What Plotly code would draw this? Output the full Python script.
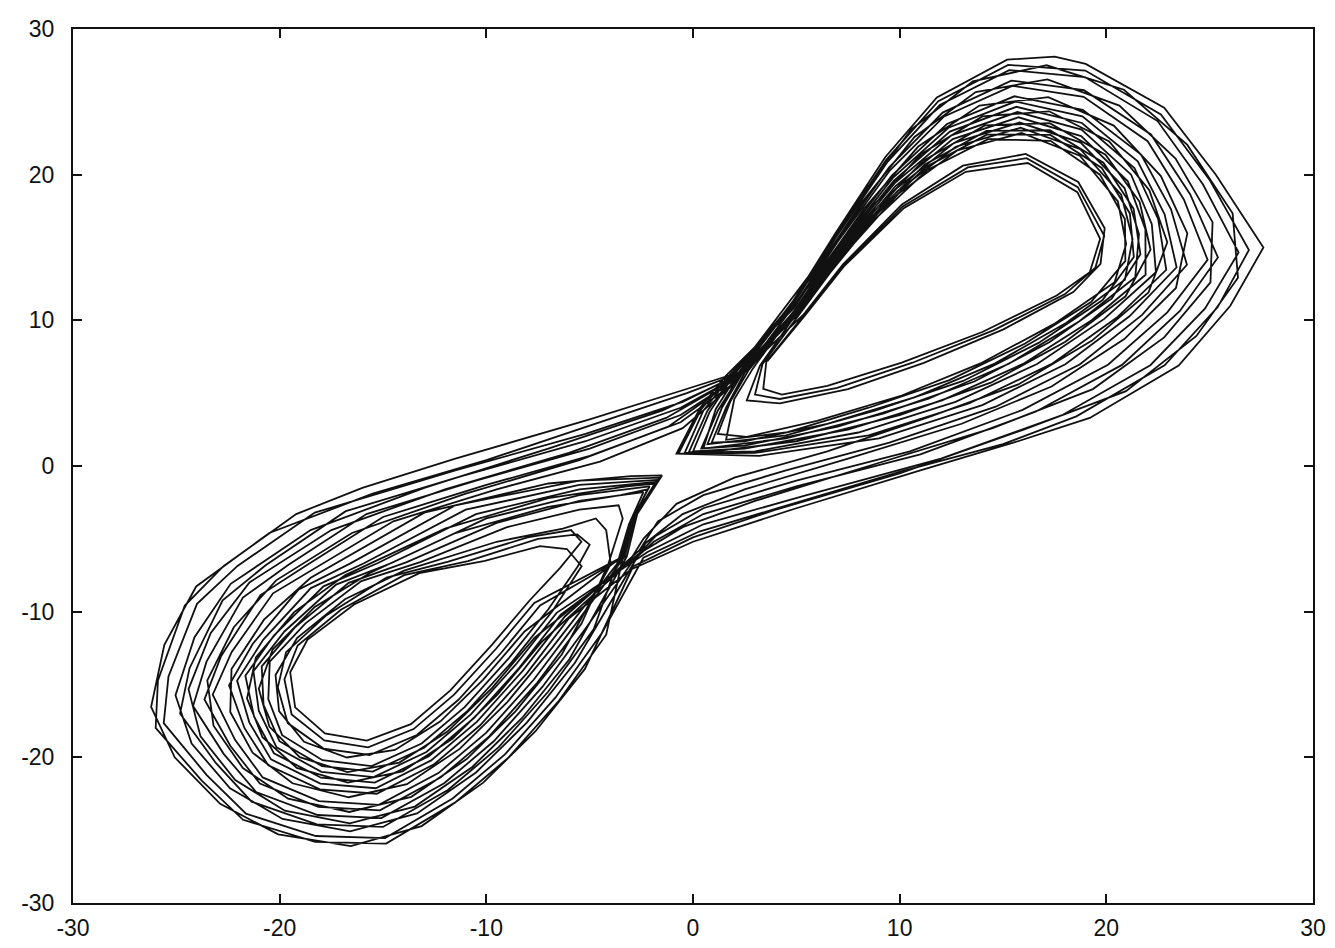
import plotly.graph_objects as go

# Phase portrait of a double-scroll orbit: one polyline visiting the right (R)
# and left (L) lobes in turn.  Each list is one revolution of the orbit,
# given as (x, y) vertices in the order they are visited.

R01 = [(3.6, 7.2), (5.4, 10.3), (7.3, 13.7), (10.2, 17.7), (13.2, 20.2), (16.2, 20.8),
       (18.6, 18.8), (19.7, 15.6), (19.2, 13.3), (17.6, 11.7), (14.0, 9.2), (10.1, 7.1),
       (6.5, 5.5), (4.3, 4.9), (3.4, 5.3)]
R02 = [(3.55, 7.16), (5.36, 10.34), (7.28, 13.74), (10.15, 17.82), (13.3, 20.5), (16.14, 21.13),
       (18.62, 19.14), (19.9, 15.8), (19.47, 13.61), (18.0, 11.8), (14.53, 9.31), (10.62, 7.09),
       (6.98, 5.37), (4.2, 4.6), (3.0, 4.9)]
R03 = [(3.36, 6.99), (5.19, 10.51), (7.18, 14.32), (9.93, 18.68), (12.78, 21.66), (15.9, 22.86),
       (18.72, 21.3), (20.56, 18.16), (20.96, 15.24), (20.4, 12.62), (17.46, 9.74), (13.91, 7.04),
       (10.1, 4.84), (6.0, 3.1), (2.6, 2.0), (1.2, 2.2), (1.8, 4.4), (2.7, 6.6)]
R04 = [(5.02, 10.69), (7.08, 14.92), (9.71, 19.58), (12.43, 22.96), (15.65, 24.66), (18.82, 23.55),
       (21.36, 20.46), (22.51, 16.94), (22.9, 13.47), (20.51, 10.19), (17.34, 6.99), (13.35, 4.29),
       (8.5, 2.1), (3.0, 0.9), (-0.7, 0.85), (0.4, 3.9), (1.8, 6.3)]
R05 = [(4.84, 10.86), (6.98, 15.52), (9.48, 20.48), (12.08, 24.26), (15.4, 26.46), (18.92, 25.8),
       (22.16, 22.76), (24.06, 18.64), (25.4, 14.32), (23.56, 10.64), (20.76, 6.94), (16.6, 3.74),
       (11.0, 0.8), (5.0, -1.4), (0.5, -3.3), (-1.9, -5.2), (-2.9, -6.5)]
L01 = [(-6.4, -10.2), (-8.4, -13.84), (-10.6, -17.3), (-12.78, -19.92), (-15.4, -21.74), (-18.0, -21.4),
       (-20.28, -19.72), (-21.24, -17.2), (-21.66, -14.4), (-20.28, -11.64), (-17.88, -8.26),
       (-15.24, -6.66), (-10.5, -3.3), (-5.5, -1.6), (-1.8, -1.1), (-2.9, -3.6), (-3.4, -6.3)]
L02 = [(-7.4, -9.58), (-9.28, -12.82), (-11.35, -16.05), (-13.36, -18.47), (-15.65, -19.84),
       (-17.88, -19.4), (-19.61, -17.65), (-20.09, -15.2), (-19.69, -12.78), (-17.73, -10.24),
       (-14.83, -7.66), (-11.84, -6.56), (-8.0, -4.9), (-5.9, -4.4), (-5.4, -5.2)]
L03 = [(-6.43, -6.99), (-7.92, -9.25), (-9.73, -12.28), (-11.74, -15.4), (-13.65, -17.72),
       (-15.78, -18.85), (-17.81, -18.36), (-19.25, -16.57), (-19.49, -14.16), (-18.66, -11.93),
       (-16.4, -9.51), (-13.24, -7.35), (-10.07, -6.51), (-7.4, -5.5), (-6.1, -5.7)]
L04 = [(-5.39, -6.88), (-6.8, -9.95), (-8.75, -13.43), (-10.9, -16.8), (-13.01, -19.34), (-15.5, -20.98),
       (-17.95, -20.6), (-20.01, -18.89), (-20.78, -16.4), (-20.87, -13.75), (-19.26, -11.08),
       (-16.66, -8.02), (-13.88, -6.62), (-9.5, -3.9), (-5.5, -2.4), (-2.4, -1.8), (-3.1, -4.0),
       (-3.6, -6.4)]
L05 = [(-4.8, -11.2), (-7.0, -15.48), (-9.4, -19.3), (-11.86, -22.24), (-15.0, -24.78), (-18.2, -24.6),
       (-21.36, -23.04), (-23.08, -20.4), (-24.82, -17.0), (-24.36, -13.88), (-22.76, -9.22),
       (-20.68, -6.82), (-16.8, -3.1), (-11.2, -0.7), (-5.2, 1.7), (-0.6, 4.0), (2.1, 6.1)]
R06 = [(5.16, 10.55), (7.16, 14.44), (9.89, 18.86), (12.71, 21.92), (15.85, 23.22), (18.74, 21.75),
       (20.72, 18.62), (21.27, 15.58), (20.9, 12.79), (18.07, 9.83), (14.6, 7.03), (10.75, 4.73),
       (6.5, 2.9), (2.5, 1.7), (0.9, 1.6), (1.6, 4.0), (2.5, 6.4)]
R07 = [(4.95, 10.76), (7.04, 15.16), (9.62, 19.94), (12.29, 23.48), (15.55, 25.38), (18.86, 24.45),
       (21.68, 21.38), (23.13, 17.62), (23.9, 13.81), (21.73, 10.37), (18.71, 6.97), (14.65, 4.07),
       (9.5, 1.6), (4.5, -0.3), (0.5, -2.0), (-1.7, -3.8), (-2.6, -5.8)]
L06 = [(-6.2, -10.33), (-8.23, -14.05), (-10.45, -17.55), (-12.67, -20.21), (-15.35, -22.12),
       (-18.03, -21.8), (-20.42, -20.14), (-21.47, -17.6), (-22.06, -14.73), (-20.79, -11.92),
       (-18.49, -8.38), (-15.92, -6.68), (-11.0, -3.0), (-5.5, -1.3), (-1.7, -0.95), (-2.9, -3.5),
       (-3.4, -6.3)]
L07 = [(-4.2, -11.58), (-6.48, -16.1), (-8.95, -20.05), (-11.52, -23.11), (-14.85, -25.92),
       (-18.28, -25.8), (-21.77, -24.29), (-23.77, -21.6), (-26.0, -17.98), (-25.89, -14.72),
       (-24.59, -9.58), (-22.72, -6.88), (-19.2, -3.3), (-16.0, -1.5), (-11.5, 0.5), (-5.0, 3.2),
       (-0.5, 5.2), (2.4, 6.5)]
R08 = [(5.12, 10.58), (7.14, 14.56), (9.84, 19.04), (12.64, 22.18), (15.8, 23.58), (18.76, 22.2),
       (20.88, 19.08), (21.58, 15.92), (21.4, 12.96), (18.68, 9.92), (15.28, 7.02), (11.4, 4.62),
       (7.0, 2.7), (2.5, 1.4), (0.4, 1.2), (1.2, 3.8), (2.3, 6.3)]
R09 = [(5.33, 10.37), (7.26, 13.84), (10.11, 17.96), (13.06, 20.62), (16.1, 21.42), (18.64, 19.5),
       (19.92, 16.32), (19.72, 13.88), (18.4, 11.94), (15.02, 9.38), (11.17, 7.08), (7.5, 5.28),
       (4.2, 4.3), (2.6, 4.5)]
R10 = [(3.24, 6.89), (5.09, 10.62), (7.12, 14.68), (9.8, 19.22), (12.57, 22.44), (15.75, 23.94),
       (18.78, 22.65), (21.04, 19.54), (21.89, 16.26), (21.9, 13.13), (19.29, 10.01), (15.97, 7.01),
       (12.05, 4.51), (7.5, 2.5), (2.5, 1.2), (0.0, 1.0), (0.8, 3.7), (2.0, 6.3)]
R11 = [(4.77, 10.93), (6.94, 15.76), (9.39, 20.84), (11.94, 24.78), (15.3, 27.18), (18.96, 26.7),
       (22.48, 23.68), (24.68, 19.32), (26.4, 14.66), (24.78, 10.82), (22.13, 6.92), (17.9, 3.52),
       (12.0, 0.5), (5.5, -2.0), (0.5, -4.0), (-2.2, -5.9)]
L08 = [(-6.6, -10.08), (-8.58, -13.64), (-10.75, -17.05), (-12.9, -19.63), (-15.45, -21.36),
       (-17.98, -21.0), (-20.15, -19.31), (-21.01, -16.8), (-21.27, -14.08), (-19.77, -11.36),
       (-17.27, -8.14), (-14.56, -6.64), (-10.0, -3.6), (-5.5, -2.0), (-2.1, -1.4), (-3.0, -3.8),
       (-3.5, -6.3)]
L09 = [(-7.68, -9.4), (-9.52, -12.53), (-11.56, -15.7), (-13.52, -18.06), (-15.72, -19.31),
       (-17.84, -18.84), (-19.42, -17.06), (-19.77, -14.64), (-19.13, -12.32), (-17.02, -9.85),
       (-13.98, -7.49), (-10.89, -6.53), (-7.5, -5.0), (-5.6, -4.7), (-5.0, -5.4)]
L10 = [(-5.58, -6.9), (-7.0, -9.83), (-8.93, -13.23), (-11.05, -16.55), (-13.13, -19.05),
       (-15.55, -20.6), (-17.93, -20.2), (-19.88, -18.48), (-20.55, -16.0), (-20.48, -13.43),
       (-18.75, -10.8), (-16.05, -7.9), (-13.2, -6.6), (-9.0, -4.2), (-5.5, -3.0), (-3.6, -2.7),
       (-3.4, -3.6)]
L11 = [(-4.1, -6.74), (-5.4, -10.83), (-7.53, -14.87), (-9.85, -18.55), (-12.2, -21.37),
       (-15.15, -23.64), (-18.13, -23.4), (-20.96, -21.8), (-22.39, -19.2), (-23.64, -16.03),
       (-22.83, -13.04), (-20.93, -8.86), (-18.64, -6.76), (-15.0, -3.5), (-10.0, -1.3), (-5.0, 0.7),
       (-0.6, 3.0), (1.9, 5.6)]
R12 = [(5.05, 10.65), (7.1, 14.8), (9.75, 19.4), (12.5, 22.7), (15.7, 24.3), (18.8, 23.1),
       (21.2, 20.0), (22.2, 16.6), (22.4, 13.3), (19.9, 10.1), (16.65, 7.0), (12.7, 4.4),
       (8.0, 2.3), (3.0, 1.0), (-0.4, 0.9), (0.5, 3.8), (1.9, 6.3)]
R13 = [(4.7, 11.0), (6.9, 16.0), (9.3, 21.2), (11.8, 25.3), (15.2, 27.9), (17.5, 28.1), (19.0, 27.6),
       (22.8, 24.6), (25.3, 20.0), (27.6, 15.0), (26.0, 11.0), (23.5, 6.9), (19.2, 3.3),
       (15.5, 1.6), (11.0, -0.3), (5.0, -2.9), (0.0, -5.2), (-3.0, -7.1)]
L12 = [(-6.0, -10.45), (-8.05, -14.25), (-10.3, -17.8), (-12.55, -20.5), (-15.3, -22.5),
       (-18.05, -22.2), (-20.55, -20.55), (-21.7, -18.0), (-22.45, -15.05), (-21.3, -12.2),
       (-19.1, -8.5), (-16.6, -6.7), (-11.5, -2.7), (-5.5, -1.0), (-1.6, -0.8), (-2.8, -3.4),
       (-3.3, -6.2)]
L13 = [(-5.6, -10.7), (-7.7, -14.66), (-10.0, -18.3), (-12.32, -21.08), (-15.2, -23.26),
       (-18.1, -23.0), (-20.82, -21.38), (-22.16, -18.8), (-23.24, -15.7), (-22.32, -12.76),
       (-20.32, -8.74), (-17.96, -6.74), (-14.5, -3.8), (-9.5, -1.6), (-4.5, 0.3), (-0.5, 2.6),
       (1.8, 5.4)]
R14 = [(4.98, 10.72), (7.06, 15.04), (9.66, 19.76), (12.36, 23.22), (15.6, 25.02), (18.84, 24.0),
       (21.52, 20.92), (22.82, 17.28), (23.4, 13.64), (21.12, 10.28), (18.02, 6.98), (14.0, 4.18),
       (9.0, 1.9), (3.2, 0.7), (-0.8, 0.85), (0.35, 4.0), (1.6, 6.2)]
R15 = [(4.88, 10.83), (7.0, 15.4), (9.53, 20.3), (12.15, 24.0), (15.45, 26.1), (18.9, 25.35),
       (22.0, 22.3), (23.75, 18.3), (24.9, 14.15), (22.95, 10.55), (20.08, 6.95), (15.95, 3.85),
       (10.5, 1.0), (5.0, -1.0), (0.5, -2.9), (-1.8, -4.8), (-2.8, -6.3)]
L14 = [(-5.12, -11.0), (-7.28, -15.15), (-9.64, -18.9), (-12.04, -21.78), (-15.08, -24.17),
       (-18.16, -23.96), (-21.14, -22.38), (-22.71, -19.76), (-24.19, -16.48), (-23.54, -13.43),
       (-21.78, -9.03), (-19.59, -6.79), (-15.8, -3.3), (-10.5, -1.0), (-5.0, 1.2), (-0.6, 3.5),
       (2.0, 5.9)]
R16 = [(4.74, 10.97), (6.92, 15.88), (9.35, 21.02), (11.87, 25.04), (15.25, 27.54), (18.98, 27.15),
       (22.64, 24.14), (24.99, 19.66), (26.9, 14.83), (25.39, 10.91), (22.82, 6.91), (18.55, 3.41),
       (15.0, 1.5), (10.0, -0.4), (5.0, -2.5), (0.3, -4.5), (-2.4, -6.3)]
L15 = [(-4.4, -11.45), (-6.65, -15.89), (-9.1, -19.8), (-11.63, -22.82), (-14.9, -25.54),
       (-18.25, -25.4), (-21.63, -23.87), (-23.54, -21.2), (-25.61, -17.65), (-25.38, -14.44),
       (-24.0, -9.46), (-22.04, -6.86), (-18.3, -3.2), (-11.5, -0.3), (-5.2, 2.2), (-0.5, 4.4),
       (2.2, 6.3)]
R17 = [(6.12, 12.6), (8.48, 16.86), (11.22, 20.7), (14.2, 23.0), (17.27, 23.05), (19.86, 20.82),
       (21.32, 17.66), (21.65, 14.54), (20.26, 11.49), (17.24, 8.49), (13.61, 5.8), (9.2, 3.6),
       (4.5, 1.9), (0.5, 1.2), (1.1, 3.9), (2.2, 6.4)]
R18 = [(5.88, 13.27), (8.2, 18.15), (10.72, 22.59), (13.68, 25.67), (17.15, 26.54), (20.63, 24.74),
       (23.35, 21.1), (25.14, 16.74), (25.04, 12.61), (22.8, 8.83), (19.35, 5.28), (14.5, 2.6),
       (8.5, 0.0), (3.0, -2.4), (-0.5, -4.2), (-2.6, -6.0)]
L16 = [(-7.66, -11.79), (-9.73, -15.25), (-11.88, -18.23), (-14.21, -20.36), (-16.72, -21.02),
       (-19.03, -19.99), (-20.5, -17.89), (-21.01, -15.29), (-20.34, -12.6), (-18.3, -9.67),
       (-15.66, -7.36), (-11.5, -4.6), (-7.0, -2.8), (-3.5, -2.0), (-2.2, -1.6), (-3.0, -3.9),
       (-3.6, -6.4)]
L17 = [(-8.15, -11.36), (-10.15, -14.66), (-12.22, -17.53), (-14.42, -19.49), (-16.75, -20.01),
       (-18.82, -18.93), (-20.03, -16.83), (-20.2, -14.35), (-19.16, -11.81), (-16.84, -9.15),
       (-13.98, -7.18), (-9.5, -5.2), (-6.3, -4.3), (-4.7, -3.6), (-4.2, -4.4)]
L18 = [(-3.98, -6.73), (-6.35, -12.94), (-8.59, -16.84), (-10.95, -20.12), (-13.63, -22.71),
       (-16.63, -23.75), (-19.59, -22.84), (-21.78, -20.74), (-23.2, -17.83), (-23.5, -14.71),
       (-22.22, -11.07), (-20.17, -7.85), (-16.5, -4.6), (-11.0, -1.9), (-5.5, 0.4), (-1.2, 2.7),
       (1.6, 5.5)]
R19 = [(6.17, 12.46), (8.54, 16.59), (11.32, 20.3), (14.3, 22.45), (17.3, 22.32), (19.69, 20.0),
       (20.9, 16.94), (20.92, 14.08), (19.26, 11.26), (16.07, 8.41), (12.41, 5.9), (8.5, 4.0),
       (4.5, 2.3), (1.6, 1.8), (2.0, 4.6), (2.9, 6.7)]
R20 = [(6.03, 12.85), (8.37, 17.34), (11.03, 21.4), (14.0, 24.0), (17.23, 24.35), (20.14, 22.28),
       (22.08, 18.94), (22.95, 15.36), (22.04, 11.91), (19.31, 8.61), (15.74, 5.6), (11.5, 3.4),
       (6.5, 1.0), (2.0, -0.8), (-0.8, -2.6), (-2.4, -5.0), (-3.1, -6.6)]
L19 = [(-7.33, -12.09), (-9.44, -15.66), (-11.64, -18.72), (-14.06, -20.96), (-16.7, -21.73),
       (-19.17, -20.72), (-20.83, -18.62), (-21.58, -15.95), (-21.15, -13.14), (-19.3, -10.03),
       (-16.82, -7.49), (-12.0, -4.3), (-7.0, -2.2), (-3.2, -1.4), (-1.8, -1.2), (-2.9, -3.7),
       (-3.5, -6.4)]
L20 = [(-6.84, -12.52), (-9.01, -16.25), (-11.29, -19.42), (-13.84, -21.84), (-16.66, -22.74),
       (-19.38, -21.78), (-21.31, -19.68), (-22.39, -16.89), (-22.33, -13.93), (-20.76, -10.55),
       (-18.5, -7.67), (-13.0, -3.2), (-7.0, -1.2), (-3.0, -0.7), (-1.5, -0.65), (-2.7, -3.3),
       (-3.2, -6.2)]
L21 = [(-5.98, -13.27), (-8.27, -17.3), (-10.68, -20.66), (-13.46, -23.38), (-16.61, -24.53),
       (-19.75, -23.66), (-22.15, -21.56), (-23.83, -18.56), (-24.41, -15.32), (-23.34, -11.47),
       (-21.46, -7.99), (-17.5, -4.4), (-12.0, -1.6), (-6.0, 0.9), (-1.3, 3.3), (1.9, 5.9)]
R21 = [(6.14, 12.54), (8.5, 16.74), (11.26, 20.52), (14.24, 22.76), (17.29, 22.73), (19.78, 20.46),
       (21.14, 17.34), (21.33, 14.34), (19.82, 11.39), (16.72, 8.45), (13.07, 5.84), (8.8, 3.8),
       (4.5, 2.1), (1.5, 1.6), (0.7, 1.5), (1.4, 4.0), (2.4, 6.4)]
R22 = [(6.09, 12.69), (8.44, 17.04), (11.15, 20.96), (14.12, 23.38), (17.26, 23.54), (19.96, 21.37),
       (21.61, 18.14), (22.14, 14.85), (20.93, 11.65), (18.02, 8.53), (14.41, 5.72), (10.0, 3.5),
       (5.0, 1.7), (1.0, 1.0), (-0.2, 0.95), (0.7, 3.8), (2.0, 6.3)]
R23 = [(5.82, 13.45), (8.12, 18.51), (10.58, 23.12), (13.54, 26.41), (17.11, 27.51), (20.85, 25.83),
       (23.91, 22.06), (26.11, 17.35), (26.37, 12.92), (24.36, 8.93), (20.95, 5.14), (16.0, 2.5),
       (10.0, -0.5), (4.0, -3.0), (0.0, -4.9), (-2.9, -6.9)]
L22 = [(-5.23, -13.93), (-7.62, -18.21), (-10.15, -21.74), (-13.13, -24.72), (-16.56, -26.09),
       (-20.07, -25.29), (-22.88, -23.19), (-25.08, -20.0), (-26.22, -16.53), (-25.58, -12.27),
       (-24.04, -8.27), (-20.5, -4.6), (-15.5, -1.9), (-10.0, 0.4), (-4.5, 3.0), (-0.3, 5.0),
       (2.5, 6.5)]
R24 = [(5.97, 13.04), (8.3, 17.7), (10.9, 21.93), (13.86, 24.74), (17.19, 25.32), (20.36, 23.37),
       (22.64, 19.9), (23.92, 15.97), (23.37, 12.22), (20.87, 8.71), (17.35, 5.46), (13.0, 2.9),
       (7.5, 0.5), (2.5, -1.6), (-0.5, -3.3), (-2.3, -5.3)]
L23 = [(-5.71, -13.51), (-8.04, -17.62), (-10.5, -21.04), (-13.35, -23.85), (-16.59, -25.08),
       (-19.86, -24.23), (-22.4, -22.13), (-24.26, -19.06), (-25.04, -15.74), (-24.12, -11.75),
       (-22.37, -8.09), (-18.5, -4.4), (-13.0, -1.5), (-7.0, 1.2), (-1.5, 3.8), (2.0, 6.1)]

# order in which the revolutions are traversed
ORBIT = [R01, R02, R03, R04, R05,
         L01, L02, L03, L04, L05,
         R06, R07,
         L06, L07,
         R08, R09, R10, R11,
         L08, L09, L10, L11,
         R12, R13,
         L12, L13,
         R14, R15,
         L14,
         R16,
         L15,
         R17, R18,
         L16, L17, L18,
         R19, R20,
         L19, L20, L21,
         R21, R22, R23,
         L22,
         R24,
         L23]

AXIS_TICKS = [-30, -20, -10, 0, 10, 20, 30]
AXIS_LABELS = ["-30", "-20", "-10", "0", "10", "20", "30"]

xs, ys = [], []
for rev in ORBIT:
    for x, y in rev:
        xs.append(x)
        ys.append(y)

fig = go.Figure(
    go.Scatter(x=xs, y=ys, mode="lines",
               line=dict(color="#111111", width=1.8),
               hoverinfo="skip", showlegend=False)
)

axis_style = dict(
    range=[-30, 30],
    tickmode="array",
    tickvals=AXIS_TICKS,
    ticktext=AXIS_LABELS,
    ticks="inside",
    ticklen=9,
    tickwidth=2,
    tickcolor="#111111",
    showline=True,
    linecolor="#111111",
    linewidth=2,
    mirror="allticks",
    showgrid=False,
    zeroline=False,
    automargin=False,
    tickfont=dict(family="Liberation Sans, Arial, sans-serif", size=23, color="#111111"),
)
fig.update_xaxes(**axis_style, ticklabelstandoff=3)
fig.update_yaxes(**axis_style, ticklabelstandoff=12)

fig.update_layout(
    width=1335,
    height=948,
    margin=dict(l=73, r=22, t=29, b=45),
    paper_bgcolor="white",
    plot_bgcolor="white",
    showlegend=False,
)

fig.write_html("out.html")
